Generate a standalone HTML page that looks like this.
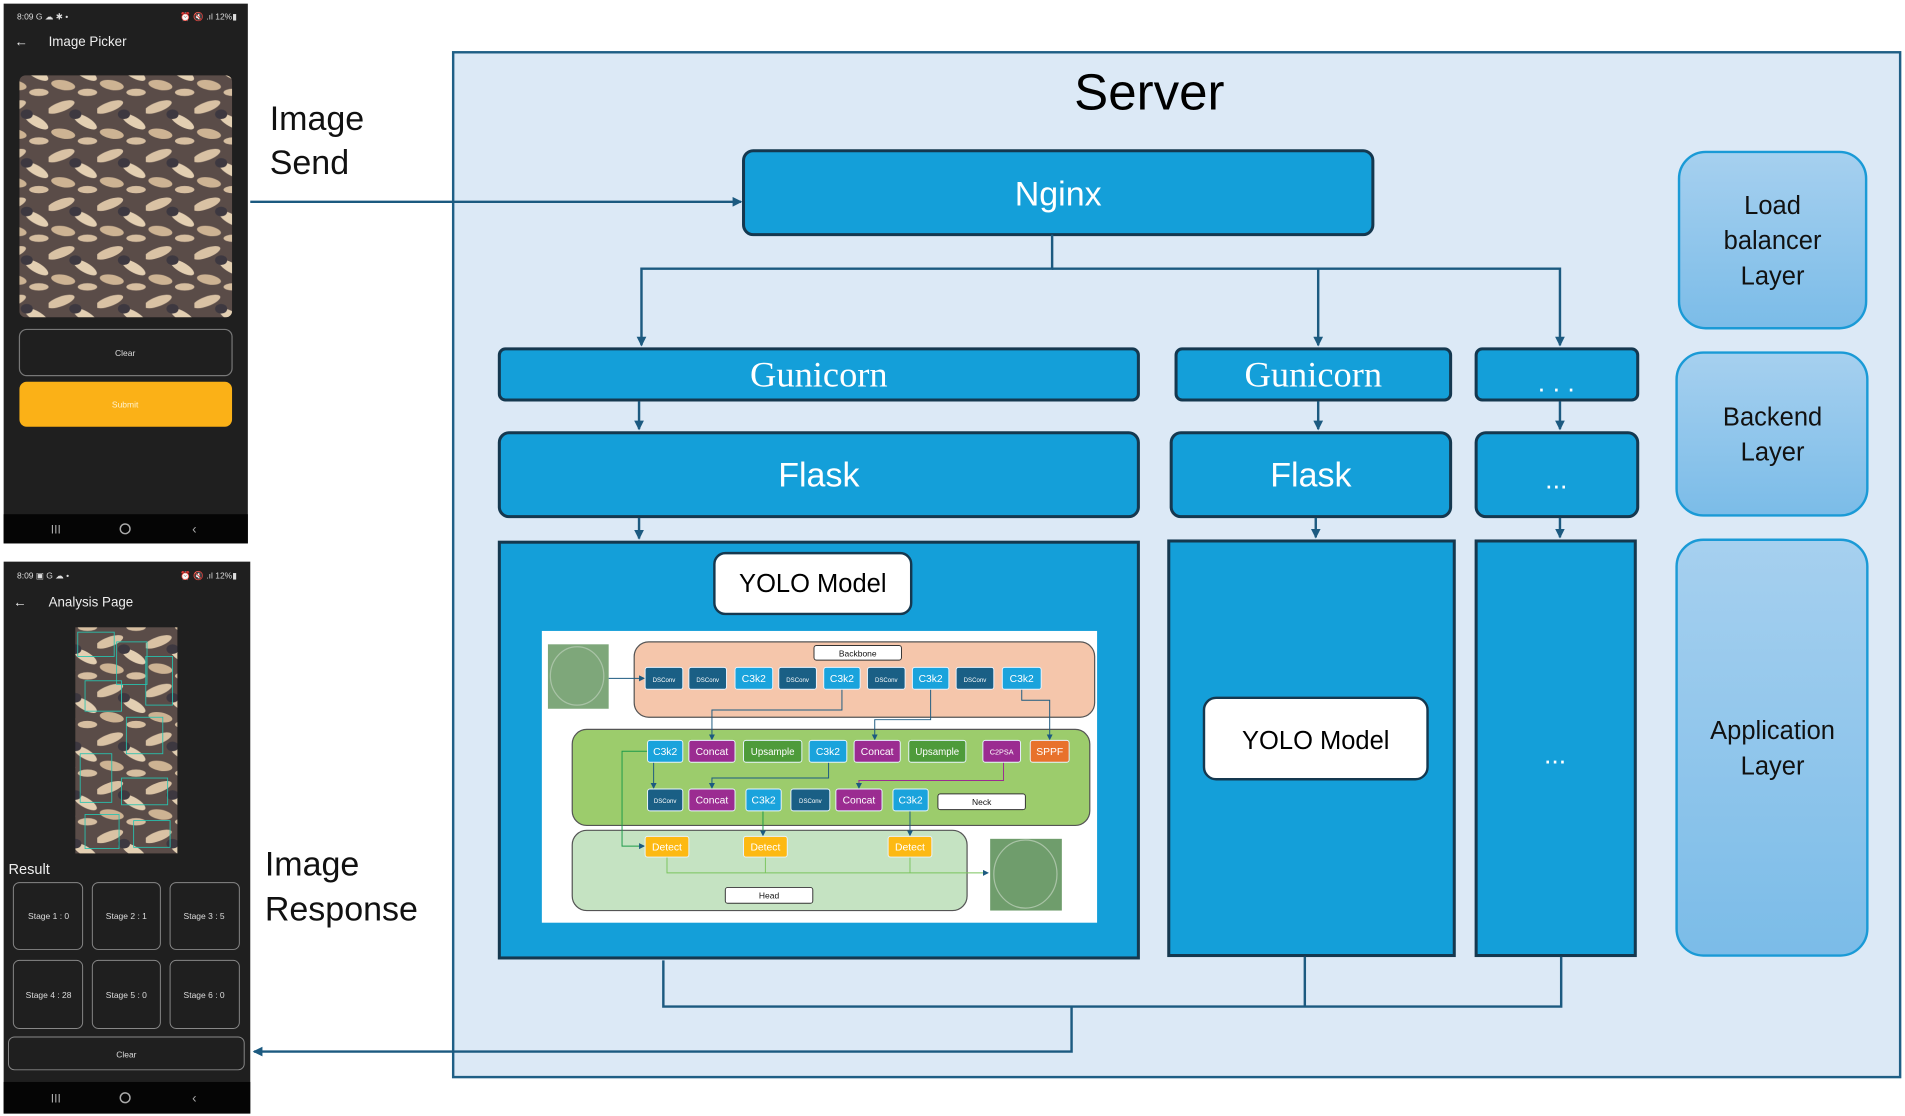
<!DOCTYPE html>
<html><head><meta charset="utf-8"><style>
html,body{margin:0;padding:0;background:#fff;width:1905px;height:1116px;overflow:hidden}
svg{display:block}
text{font-family:"Liberation Sans",sans-serif}
text.serif{font-family:"Liberation Serif",serif}
</style></head><body>
<svg width="1905" height="1116" viewBox="0 0 1568 918" preserveAspectRatio="none" xmlns="http://www.w3.org/2000/svg">
<defs>
<marker id="ar" markerWidth="8" markerHeight="8" refX="7" refY="4" orient="auto" markerUnits="userSpaceOnUse"><path d="M0,0 L8,4 L0,8 z" fill="#1c5a80"/></marker>
<marker id="as" markerWidth="5" markerHeight="5" refX="4" refY="2.5" orient="auto" markerUnits="userSpaceOnUse"><path d="M0,0 L5,2.5 L0,5 z" fill="#1c5a80"/></marker>
<linearGradient id="lg" x1="0" y1="0" x2="0" y2="1"><stop offset="0" stop-color="#a6d0ef"/><stop offset="1" stop-color="#7bbce8"/></linearGradient>
<pattern id="larva" width="40" height="40" patternUnits="userSpaceOnUse">
<rect width="40" height="40" fill="#5a4c48"/>
<ellipse cx="10" cy="8" rx="12" ry="4" fill="#d9c2a4" transform="rotate(-20 10 8)"/>
<ellipse cx="30" cy="20" rx="11" ry="4" fill="#e3cfb2" transform="rotate(30 30 20)"/>
<ellipse cx="12" cy="30" rx="10" ry="4" fill="#cdb393" transform="rotate(10 12 30)"/>
<ellipse cx="32" cy="36" rx="8" ry="3" fill="#d6bea0"/>
<ellipse cx="22" cy="14" rx="5" ry="4" fill="#3d3840"/>
</pattern>
</defs>

<!-- Phone 1 -->
<rect x="3" y="3" width="201" height="444" fill="#1f1f1f"/>
<text x="14" y="16" font-size="7" fill="#ddd">8:09 G ☁ ✱ •</text>
<text x="195" y="16" font-size="7" fill="#ddd" text-anchor="end">⏰ 🔇 .ıl 12%▮</text>
<text x="12" y="38" font-size="11" fill="#eee">←</text>
<text x="40" y="38" font-size="11" fill="#eee">Image Picker</text>
<rect x="16" y="62" width="175" height="199" rx="5" fill="url(#larva)"/>
<rect x="16" y="271" width="175" height="38" rx="6" fill="#1f1f1f" stroke="#777" stroke-width="1"/>
<text x="103" y="293" font-size="7" fill="#ddd" text-anchor="middle">Clear</text>
<rect x="16" y="314" width="175" height="37" rx="6" fill="#fbb117"/>
<text x="103" y="335" font-size="7" fill="#fff3d0" text-anchor="middle">Submit</text>
<rect x="3" y="423" width="201" height="24" fill="#050505"/>
<text x="46" y="439" font-size="10" fill="#aaa" text-anchor="middle">III</text>
<circle cx="103" cy="435" r="4" fill="none" stroke="#aaa" stroke-width="1.2"/>
<text x="160" y="439" font-size="11" fill="#aaa" text-anchor="middle">‹</text>

<!-- Phone 2 -->
<rect x="3" y="462" width="203" height="454" fill="#1f1f1f"/>
<text x="14" y="476" font-size="7" fill="#ddd">8:09 ▣ G ☁ •</text>
<text x="195" y="476" font-size="7" fill="#ddd" text-anchor="end">⏰ 🔇 .ıl 12%▮</text>
<text x="11" y="499" font-size="11" fill="#eee">←</text>
<text x="40" y="499" font-size="11" fill="#eee">Analysis Page</text>
<rect x="62" y="516" width="84" height="186" fill="url(#larva)"/>
<g fill="none" stroke="#27c4b0" stroke-width="0.7">
<rect x="64" y="520" width="30" height="20"/><rect x="96" y="528" width="25" height="35"/><rect x="70" y="560" width="30" height="25"/>
<rect x="104" y="590" width="30" height="30"/><rect x="66" y="620" width="26" height="40"/><rect x="100" y="640" width="38" height="22"/>
<rect x="70" y="670" width="28" height="28"/><rect x="110" y="675" width="30" height="22"/><rect x="120" y="540" width="22" height="40"/>
</g>
<text x="7" y="719" font-size="12" fill="#eee">Result</text>
<g fill="#1f1f1f" stroke="#888" stroke-width="0.8">
<rect x="11" y="726" width="57" height="55" rx="5"/><rect x="76" y="726" width="56" height="55" rx="5"/><rect x="140" y="726" width="57" height="55" rx="5"/>
<rect x="11" y="790" width="57" height="56" rx="5"/><rect x="76" y="790" width="56" height="56" rx="5"/><rect x="140" y="790" width="57" height="56" rx="5"/>
<rect x="7" y="853" width="194" height="27" rx="5"/>
</g>
<g font-size="7" fill="#ddd" text-anchor="middle">
<text x="40" y="756">Stage 1 : 0</text><text x="104" y="756">Stage 2 : 1</text><text x="168" y="756">Stage 3 : 5</text>
<text x="40" y="821">Stage 4 : 28</text><text x="104" y="821">Stage 5 : 0</text><text x="168" y="821">Stage 6 : 0</text>
<text x="104" y="870">Clear</text>
</g>
<rect x="3" y="890" width="203" height="26" fill="#050505"/>
<text x="46" y="907" font-size="10" fill="#aaa" text-anchor="middle">III</text>
<circle cx="103" cy="903" r="4" fill="none" stroke="#aaa" stroke-width="1.2"/>
<text x="160" y="907" font-size="11" fill="#aaa" text-anchor="middle">‹</text>

<!-- labels -->
<g font-size="28" fill="#111">
<text x="222" y="107">Image</text><text x="222" y="143">Send</text>
<text x="218" y="720">Image</text><text x="218" y="757">Response</text>
</g>

<!-- Server -->
<rect x="373" y="43" width="1191" height="843" fill="#dce9f6" stroke="#1f5f86" stroke-width="2"/>
<text x="946" y="90" font-size="42" fill="#000" text-anchor="middle">Server</text>

<line x1="206" y1="166" x2="610" y2="166" stroke="#1c5a80" stroke-width="2" marker-end="url(#ar)"/>

<g fill="#149fd9" stroke="#15384f" stroke-width="2.5">
<rect x="612" y="124" width="518" height="69" rx="8"/>
<rect x="411" y="287" width="526" height="42" rx="5"/>
<rect x="968" y="287" width="226" height="42" rx="5"/>
<rect x="1215" y="287" width="133" height="42" rx="5"/>
<rect x="411" y="356" width="526" height="69" rx="8"/>
<rect x="964" y="356" width="230" height="69" rx="8"/>
<rect x="1215" y="356" width="133" height="69" rx="8"/>
<rect x="411" y="446" width="526" height="342"/>
<rect x="962" y="445" width="235" height="341"/>
<rect x="1215" y="445" width="131" height="341"/>
</g>
<g fill="#fff" text-anchor="middle">
<text x="871" y="169" font-size="28">Nginx</text>
<text x="674" y="318" font-size="30" class="serif">Gunicorn</text>
<text x="1081" y="318" font-size="30" class="serif">Gunicorn</text>
<text x="1281" y="322" font-size="22">. . .</text>
<text x="674" y="400" font-size="28">Flask</text>
<text x="1079" y="400" font-size="28">Flask</text>
<text x="1281" y="402" font-size="22">...</text>
<text x="1280" y="628" font-size="22">...</text>
</g>

<g stroke="#1c5a80" stroke-width="2" fill="none">
<polyline points="866,193 866,221 528,221 528,284" marker-end="url(#ar)"/>
<polyline points="866,221 1284,221 1284,284" marker-end="url(#ar)"/>
<line x1="1085" y1="221" x2="1085" y2="284" marker-end="url(#ar)"/>
<line x1="526" y1="330" x2="526" y2="353" marker-end="url(#ar)"/>
<line x1="1085" y1="330" x2="1085" y2="353" marker-end="url(#ar)"/>
<line x1="1284" y1="330" x2="1284" y2="353" marker-end="url(#ar)"/>
<line x1="526" y1="426" x2="526" y2="443" marker-end="url(#ar)"/>
<line x1="1083" y1="426" x2="1083" y2="442" marker-end="url(#ar)"/>
<line x1="1284" y1="426" x2="1284" y2="442" marker-end="url(#ar)"/>
<polyline points="546,790 546,828 1285,828 1285,787"/>
<line x1="1074" y1="787" x2="1074" y2="828"/>
<polyline points="882,828 882,865 209,865" marker-end="url(#ar)"/>
</g>

<rect x="588" y="455" width="162" height="50" rx="9" fill="#fff" stroke="#15384f" stroke-width="2"/>
<text x="669" y="487" font-size="21" text-anchor="middle">YOLO Model</text>
<rect x="991" y="574" width="184" height="67" rx="10" fill="#fff" stroke="#15384f" stroke-width="2"/>
<text x="1083" y="616" font-size="21" text-anchor="middle">YOLO Model</text>

<!-- YOLO diagram -->
<rect x="446" y="519" width="457" height="240" fill="#fff"/>
<rect x="522" y="528" width="379" height="62" rx="12" fill="#f5c6ab" stroke="#555" stroke-width="1"/>
<rect x="471" y="600" width="426" height="79" rx="12" fill="#9ccc6c" stroke="#555" stroke-width="1"/>
<rect x="471" y="683" width="325" height="66" rx="12" fill="#c5e3c2" stroke="#555" stroke-width="1"/>
<rect x="451" y="530" width="50" height="53" fill="#7ea77a"/>
<ellipse cx="475" cy="556" rx="22" ry="24" fill="none" stroke="#a9c3a6" stroke-width="1"/>
<rect x="815" y="690" width="59" height="59" fill="#6f9d6c"/>
<ellipse cx="844" cy="719" rx="26" ry="28" fill="none" stroke="#a9c3a6" stroke-width="1"/>
<g fill="#fff" stroke="#333" stroke-width="0.8">
<rect x="670" y="531" width="72" height="12" rx="2"/>
<rect x="772" y="653" width="72" height="13" rx="2"/>
<rect x="597" y="730" width="72" height="13" rx="2"/>
</g>
<g font-size="7" fill="#111" text-anchor="middle">
<text x="706" y="540">Backbone</text><text x="808" y="662">Neck</text><text x="633" y="739">Head</text>
</g>
<g stroke="#1c5a80" stroke-width="0.8" fill="none">
<line x1="501" y1="558" x2="530" y2="558" marker-end="url(#as)"/>
<polyline points="693,567 693,584 586,584 586,608" marker-end="url(#as)"/>
<polyline points="766,567 766,592 720,592 720,608" marker-end="url(#as)"/>
<polyline points="841,567 841,576 864,576 864,608" marker-end="url(#as)"/>
<line x1="538" y1="627" x2="538" y2="648" marker-end="url(#as)"/>
<polyline points="682,627 682,640 586,640 586,648" marker-end="url(#as)"/>
<polyline points="826,627 826,642 707,642 707,648" stroke="#9b2c91" marker-end="url(#as)"/>
<polyline points="533,618 512,618 512,696 530,696" stroke="#1d9a4a" marker-end="url(#as)"/>
<line x1="628" y1="667" x2="628" y2="687" stroke="#1d9a4a" marker-end="url(#as)"/>
<line x1="749" y1="667" x2="749" y2="687" marker-end="url(#as)"/>
<polyline points="549,705 549,718 813,718" stroke="#7bc45e" marker-end="url(#as)"/>
<line x1="630" y1="705" x2="630" y2="718" stroke="#7bc45e"/>
<line x1="749" y1="705" x2="749" y2="718" stroke="#7bc45e"/>
</g>
<g stroke="#e8f4ff" stroke-width="0.8">
<rect x="531" y="549" width="31" height="18" rx="2" fill="#1a5f85"/>
<rect x="567" y="549" width="31" height="18" rx="2" fill="#1a5f85"/>
<rect x="605" y="549" width="31" height="18" rx="2" fill="#1aa3dc"/>
<rect x="641" y="549" width="31" height="18" rx="2" fill="#1a5f85"/>
<rect x="678" y="549" width="30" height="18" rx="2" fill="#1aa3dc"/>
<rect x="714" y="549" width="31" height="18" rx="2" fill="#1a5f85"/>
<rect x="751" y="549" width="30" height="18" rx="2" fill="#1aa3dc"/>
<rect x="787" y="549" width="31" height="18" rx="2" fill="#1a5f85"/>
<rect x="825" y="549" width="32" height="18" rx="2" fill="#1aa3dc"/>
<rect x="533" y="609" width="29" height="18" rx="2" fill="#1aa3dc"/>
<rect x="567" y="609" width="38" height="18" rx="2" fill="#9b2c91"/>
<rect x="612" y="609" width="48" height="18" rx="2" fill="#4e9b3a"/>
<rect x="666" y="609" width="31" height="18" rx="2" fill="#1aa3dc"/>
<rect x="703" y="609" width="38" height="18" rx="2" fill="#9b2c91"/>
<rect x="748" y="609" width="47" height="18" rx="2" fill="#4e9b3a"/>
<rect x="809" y="609" width="31" height="18" rx="2" fill="#9b2c91"/>
<rect x="848" y="609" width="32" height="18" rx="2" fill="#e8722c"/>
<rect x="533" y="649" width="29" height="18" rx="2" fill="#1a5f85"/>
<rect x="567" y="649" width="38" height="18" rx="2" fill="#9b2c91"/>
<rect x="614" y="649" width="29" height="18" rx="2" fill="#1aa3dc"/>
<rect x="651" y="649" width="32" height="18" rx="2" fill="#1a5f85"/>
<rect x="688" y="649" width="38" height="18" rx="2" fill="#9b2c91"/>
<rect x="735" y="649" width="29" height="18" rx="2" fill="#1aa3dc"/>
<rect x="531" y="688" width="36" height="17" rx="2" fill="#fdb913"/>
<rect x="612" y="688" width="36" height="17" rx="2" fill="#fdb913"/>
<rect x="731" y="688" width="36" height="17" rx="2" fill="#fdb913"/>
</g>
<g fill="#fff" text-anchor="middle" font-size="8.5">
<text x="546.5" y="561" font-size="5">DSConv</text><text x="582.5" y="561" font-size="5">DSConv</text><text x="620.5" y="561">C3k2</text>
<text x="656.5" y="561" font-size="5">DSConv</text><text x="693" y="561">C3k2</text><text x="729.5" y="561" font-size="5">DSConv</text>
<text x="766" y="561">C3k2</text><text x="802.5" y="561" font-size="5">DSConv</text><text x="841" y="561">C3k2</text>
<text x="547.5" y="621">C3k2</text><text x="586" y="621">Concat</text><text x="636" y="621" font-size="8">Upsample</text>
<text x="681.5" y="621">C3k2</text><text x="722" y="621">Concat</text><text x="771.5" y="621" font-size="8">Upsample</text>
<text x="824.5" y="620.5" font-size="6">C2PSA</text><text x="864" y="621">SPPF</text>
<text x="547.5" y="660.5" font-size="5">DSConv</text><text x="586" y="661">Concat</text><text x="628.5" y="661">C3k2</text>
<text x="667" y="660.5" font-size="5">DSConv</text><text x="707" y="661">Concat</text><text x="749.5" y="661">C3k2</text>
<text x="549" y="699.5">Detect</text><text x="630" y="699.5">Detect</text><text x="749" y="699.5">Detect</text>
</g>

<!-- right layers -->
<g fill="url(#lg)" stroke="#1a9ad6" stroke-width="2">
<rect x="1382" y="125" width="154" height="145" rx="22"/>
<rect x="1380" y="290" width="157" height="134" rx="22"/>
<rect x="1380" y="444" width="157" height="342" rx="22"/>
</g>
<g font-size="21" fill="#111" text-anchor="middle">
<text x="1459" y="176">Load</text><text x="1459" y="205">balancer</text><text x="1459" y="234">Layer</text>
<text x="1459" y="350">Backend</text><text x="1459" y="379">Layer</text>
<text x="1459" y="608">Application</text><text x="1459" y="637">Layer</text>
</g>
</svg>
</body></html>
